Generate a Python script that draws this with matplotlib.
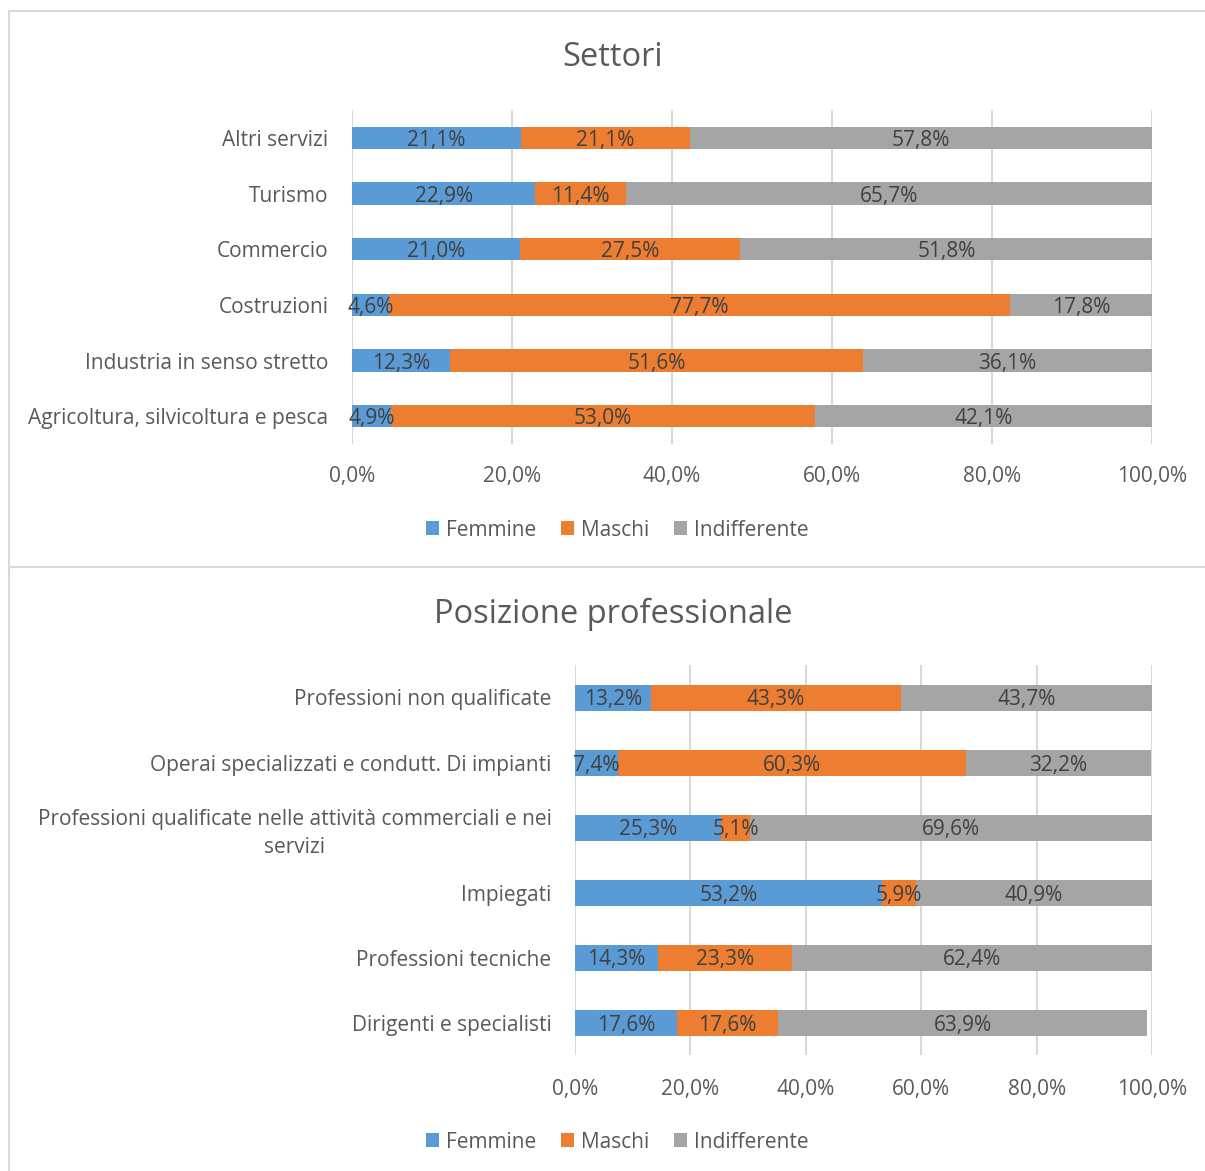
import numpy as np
import matplotlib.pyplot as plt
from matplotlib.patches import Patch
from matplotlib.lines import Line2D

plt.rcParams['font.family'] = ['Open Sans', 'DejaVu Sans']

# --- data (top to bottom as shown) ---
settori = ['Altri servizi', 'Turismo', 'Commercio', 'Costruzioni',
           'Industria in senso stretto', 'Agricoltura, silvicoltura e pesca']
set_femmine = [21.1, 22.9, 21.0, 4.6, 12.3, 4.9]
set_maschi = [21.1, 11.4, 27.5, 77.7, 51.6, 53.0]
set_indiff = [57.8, 65.7, 51.8, 17.8, 36.1, 42.1]

posizioni = ['Professioni non qualificate',
             'Operai specializzati e condutt. Di impianti',
             'Professioni qualificate nelle attività commerciali e nei\nservizi',
             'Impiegati', 'Professioni tecniche', 'Dirigenti e specialisti']
pos_femmine = [13.2, 7.4, 25.3, 53.2, 14.3, 17.6]
pos_maschi = [43.3, 60.3, 5.1, 5.9, 23.3, 17.6]
pos_indiff = [43.7, 32.2, 69.6, 40.9, 62.4, 63.9]

series_names = ['Femmine', 'Maschi', 'Indifferente']
colors = ['#5B9BD5', '#ED7D31', '#A5A5A5']
ticks = [0, 20, 40, 60, 80, 100]

W, H = 1205, 1171
fig = plt.figure(figsize=(W / 100, H / 100), dpi=100)
fig.patch.set_facecolor('white')

FS = 15

def px_axes(left, top, right, bottom):
    return fig.add_axes([left / W, 1 - bottom / H, (right - left) / W, (bottom - top) / H])

def fmt(v):
    return f'{v:.1f}%'.replace('.', ',')

def draw(ax, cats, vals, title, title_y, legend_y, xpad):
    y = np.arange(len(cats))
    left = np.zeros(len(cats))
    for name, v, c in zip(series_names, vals, colors):
        v = np.array(v)
        ax.barh(y, v, left=left, height=0.4, color=c, label=name, zorder=3)
        for yi, li, vi in zip(y, left, v):
            ax.text(li + vi / 2, yi, fmt(vi), ha='center', va='center_baseline',
                    fontsize=FS, color='#404040', zorder=4)
        left = left + v
    ax.set_ylim(len(cats) - 0.5, -0.5)
    ax.set_xlim(0, 100)
    ax.set_yticks(y)
    ax.set_yticklabels(cats, fontsize=FS, color='#595959',
                       multialignment='center', linespacing=1.45)
    ax.set_xticks(ticks)
    ax.set_xticklabels([fmt(t) for t in ticks], fontsize=FS, color='#595959')
    ax.tick_params(axis='both', length=0)
    ax.tick_params(axis='y', pad=17)
    ax.tick_params(axis='x', pad=xpad)
    for s in ax.spines.values():
        s.set_visible(False)
    ax.grid(axis='x', color='#D9D9D9', lw=1.5, zorder=0)
    ax.set_axisbelow(True)
    fig.text(613 / W, 1 - title_y / H, title, ha='center', va='center',
             fontsize=23.5, color='#595959')
    handles = [Patch(facecolor=c, edgecolor='none') for c in colors]
    fig.legend(handles, series_names, loc='center', ncol=3,
               bbox_to_anchor=(617 / W, 1 - legend_y / H), frameon=False,
               fontsize=FS, labelcolor='#595959', handlelength=0.65,
               handleheight=0.65, handletextpad=0.3, columnspacing=1.2)

ax1 = px_axes(352, 110, 1152, 444)
draw(ax1, settori, [set_femmine, set_maschi, set_indiff], 'Settori', 58, 530, 15.5)

ax2 = px_axes(575, 665, 1152, 1055)
draw(ax2, posizioni, [pos_femmine, pos_maschi, pos_indiff],
     'Posizione professionale', 614, 1142, 17.5)

# chart borders
for xs, ys in [((9, 1205), (11, 11)), ((9, 9), (11, 1171)), ((9, 1205), (567, 567))]:
    fig.add_artist(Line2D([x / W for x in xs], [1 - yy / H for yy in ys],
                          color='#D9D9D9', lw=1.5))

fig.savefig('out.png', dpi=100)
